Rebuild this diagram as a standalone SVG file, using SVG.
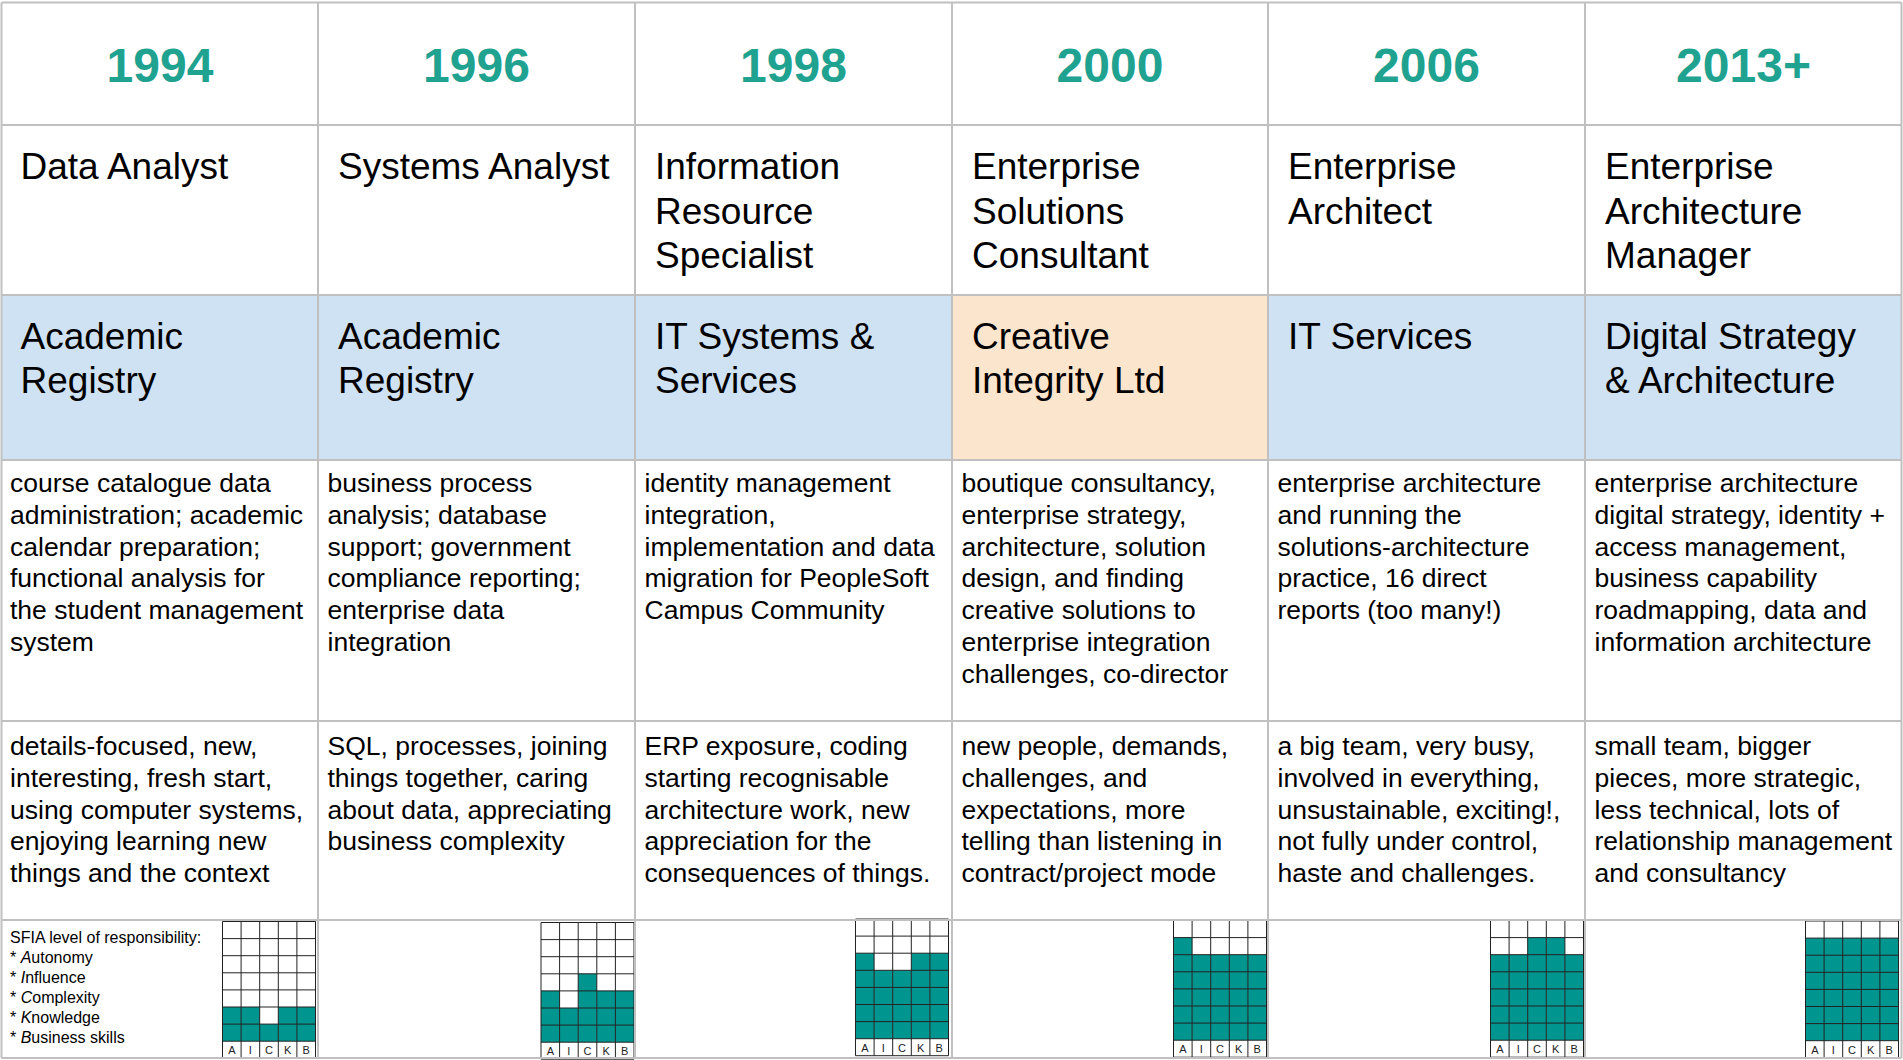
<svg xmlns="http://www.w3.org/2000/svg" xmlns:xlink="http://www.w3.org/1999/xlink" width="1903" height="1060" viewBox="0 0 1903 1060">
<style>
text{font-family:"Liberation Sans",Arial,sans-serif;fill:#000}
.yr{font-size:48px;font-weight:bold;fill:#1fa28f;text-anchor:middle}
.tt{font-size:37px}
.ds{font-size:26.5px}
.sf{font-size:16px}
.lb{font-size:11px;text-anchor:middle;fill:#222}
.bl{fill:#cfe2f3}
.or{fill:#fce5cd}
.fill{fill:#00968f}
.gl{fill:none;stroke:#222;stroke-width:1}
.bd{fill:none;stroke:#c0c0c0;stroke-width:2}
</style>
<defs>
<g id="gridframe">
<path class="gl" d="M0 0V136.7M18.6 0V136.7M37.2 0V136.7M55.8 0V136.7M74.4 0V136.7M93 0V136.7M0 0H93M0 17.1H93M0 34.2H93M0 51.3H93M0 68.4H93M0 85.5H93M0 102.6H93M0 119.7H93M0 136.7H93"/>
<text class="lb" x="9.3" y="132.5">A</text>
<text class="lb" x="27.9" y="132.5">I</text>
<text class="lb" x="46.5" y="132.5">C</text>
<text class="lb" x="65.1" y="132.5">K</text>
<text class="lb" x="83.7" y="132.5">B</text>
</g>
</defs>
<rect x="0" y="0" width="1903" height="1060" fill="#fff"/>
<g id="backgrounds">
<rect class="bl" x="1.5" y="295" width="950.5" height="165"/>
<rect class="or" x="952" y="295" width="316" height="165"/>
<rect class="bl" x="1268" y="295" width="633.5" height="165"/>
</g>

<g id="col-1994">
<text class="yr" x="160" y="82">1994</text>
<text class="tt" x="20.5" y="179">Data Analyst</text>
<text class="tt" x="20.5" y="348.5">Academic</text>
<text class="tt" x="20.5" y="392.5">Registry</text>
<text class="ds" x="10" y="492"><tspan x="10">course catalogue data</tspan><tspan x="10" dy="31.8">administration; academic</tspan><tspan x="10" dy="31.8">calendar preparation;</tspan><tspan x="10" dy="31.8">functional analysis for</tspan><tspan x="10" dy="31.8">the student management</tspan><tspan x="10" dy="31.8">system</tspan></text>
<text class="ds" x="10" y="755"><tspan x="10">details-focused, new,</tspan><tspan x="10" dy="31.8">interesting, fresh start,</tspan><tspan x="10" dy="31.8">using computer systems,</tspan><tspan x="10" dy="31.8">enjoying learning new</tspan><tspan x="10" dy="31.8">things and the context</tspan></text>
<text class="sf" x="10" y="943"><tspan x="10">SFIA level of responsibility:</tspan><tspan x="10" dy="19.9">* <tspan font-style="italic">A</tspan>utonomy</tspan><tspan x="10" dy="19.9">* <tspan font-style="italic">I</tspan>nfluence</tspan><tspan x="10" dy="19.9">* <tspan font-style="italic">C</tspan>omplexity</tspan><tspan x="10" dy="19.9">* <tspan font-style="italic">K</tspan>nowledge</tspan><tspan x="10" dy="19.9">* <tspan font-style="italic">B</tspan>usiness skills</tspan></text>
<g id="sfia-1994" transform="translate(222.5,921.5)">
<rect x="0" y="0" width="93" height="136.7" fill="#fff"/>
<rect class="fill" x="0" y="85.5" width="18.6" height="34.2"/>
<rect class="fill" x="18.6" y="85.5" width="18.6" height="34.2"/>
<rect class="fill" x="37.2" y="102.6" width="18.6" height="17.1"/>
<rect class="fill" x="55.8" y="85.5" width="18.6" height="34.2"/>
<rect class="fill" x="74.4" y="85.5" width="18.6" height="34.2"/>
<use xlink:href="#gridframe"/>
</g>
</g>

<g id="col-1996">
<text class="yr" x="476.5" y="82">1996</text>
<text class="tt" x="338" y="179">Systems Analyst</text>
<text class="tt" x="338" y="348.5">Academic</text>
<text class="tt" x="338" y="392.5">Registry</text>
<text class="ds" x="327.5" y="492"><tspan x="327.5">business process</tspan><tspan x="327.5" dy="31.8">analysis; database</tspan><tspan x="327.5" dy="31.8">support; government</tspan><tspan x="327.5" dy="31.8">compliance reporting;</tspan><tspan x="327.5" dy="31.8">enterprise data</tspan><tspan x="327.5" dy="31.8">integration</tspan></text>
<text class="ds" x="327.5" y="755"><tspan x="327.5">SQL, processes, joining</tspan><tspan x="327.5" dy="31.8">things together, caring</tspan><tspan x="327.5" dy="31.8">about data, appreciating</tspan><tspan x="327.5" dy="31.8">business complexity</tspan></text>
<g id="sfia-1996" transform="translate(541,922.5)">
<rect x="0" y="0" width="93" height="136.7" fill="#fff"/>
<rect class="fill" x="0" y="68.4" width="18.6" height="51.3"/>
<rect class="fill" x="18.6" y="85.5" width="18.6" height="34.2"/>
<rect class="fill" x="37.2" y="51.3" width="18.6" height="68.4"/>
<rect class="fill" x="55.8" y="68.4" width="18.6" height="51.3"/>
<rect class="fill" x="74.4" y="68.4" width="18.6" height="51.3"/>
<use xlink:href="#gridframe"/>
</g>
</g>

<g id="col-1998">
<text class="yr" x="793.5" y="82">1998</text>
<text class="tt" x="655" y="179"><tspan x="655">Information</tspan><tspan x="655" dy="44.5">Resource</tspan><tspan x="655" dy="44.5">Specialist</tspan></text>
<text class="tt" x="655" y="348.5"><tspan x="655">IT Systems &amp;</tspan><tspan x="655" dy="44">Services</tspan></text>
<text class="ds" x="644.5" y="492"><tspan x="644.5">identity management</tspan><tspan x="644.5" dy="31.8">integration,</tspan><tspan x="644.5" dy="31.8">implementation and data</tspan><tspan x="644.5" dy="31.8">migration for PeopleSoft</tspan><tspan x="644.5" dy="31.8">Campus Community</tspan></text>
<text class="ds" x="644.5" y="755"><tspan x="644.5">ERP exposure, coding</tspan><tspan x="644.5" dy="31.8">starting recognisable</tspan><tspan x="644.5" dy="31.8">architecture work, new</tspan><tspan x="644.5" dy="31.8">appreciation for the</tspan><tspan x="644.5" dy="31.8">consequences of things.</tspan></text>
<g id="sfia-1998" transform="translate(855.5,919)">
<rect x="0" y="0" width="93" height="136.7" fill="#fff"/>
<rect class="fill" x="0" y="34.2" width="18.6" height="85.5"/>
<rect class="fill" x="18.6" y="51.3" width="18.6" height="68.4"/>
<rect class="fill" x="37.2" y="51.3" width="18.6" height="68.4"/>
<rect class="fill" x="55.8" y="34.2" width="18.6" height="85.5"/>
<rect class="fill" x="74.4" y="34.2" width="18.6" height="85.5"/>
<use xlink:href="#gridframe"/>
</g>
</g>

<g id="col-2000">
<text class="yr" x="1110" y="82">2000</text>
<text class="tt" x="972" y="179"><tspan x="972">Enterprise</tspan><tspan x="972" dy="44.5">Solutions</tspan><tspan x="972" dy="44.5">Consultant</tspan></text>
<text class="tt" x="972" y="348.5"><tspan x="972">Creative</tspan><tspan x="972" dy="44">Integrity Ltd</tspan></text>
<text class="ds" x="961.5" y="492"><tspan x="961.5">boutique consultancy,</tspan><tspan x="961.5" dy="31.8">enterprise strategy,</tspan><tspan x="961.5" dy="31.8">architecture, solution</tspan><tspan x="961.5" dy="31.8">design, and finding</tspan><tspan x="961.5" dy="31.8">creative solutions to</tspan><tspan x="961.5" dy="31.8">enterprise integration</tspan><tspan x="961.5" dy="31.8">challenges, co-director</tspan></text>
<text class="ds" x="961.5" y="755"><tspan x="961.5">new people, demands,</tspan><tspan x="961.5" dy="31.8">challenges, and</tspan><tspan x="961.5" dy="31.8">expectations, more</tspan><tspan x="961.5" dy="31.8">telling than listening in</tspan><tspan x="961.5" dy="31.8">contract/project mode</tspan></text>
<g id="sfia-2000" transform="translate(1173.5,920.5)">
<rect x="0" y="0" width="93" height="136.7" fill="#fff"/>
<rect class="fill" x="0" y="17.1" width="18.6" height="102.6"/>
<rect class="fill" x="18.6" y="34.2" width="18.6" height="85.5"/>
<rect class="fill" x="37.2" y="34.2" width="18.6" height="85.5"/>
<rect class="fill" x="55.8" y="34.2" width="18.6" height="85.5"/>
<rect class="fill" x="74.4" y="34.2" width="18.6" height="85.5"/>
<use xlink:href="#gridframe"/>
</g>
</g>

<g id="col-2006">
<text class="yr" x="1426.5" y="82">2006</text>
<text class="tt" x="1288" y="179"><tspan x="1288">Enterprise</tspan><tspan x="1288" dy="44.5">Architect</tspan></text>
<text class="tt" x="1288" y="348.5">IT Services</text>
<text class="ds" x="1277.5" y="492"><tspan x="1277.5">enterprise architecture</tspan><tspan x="1277.5" dy="31.8">and running the</tspan><tspan x="1277.5" dy="31.8">solutions-architecture</tspan><tspan x="1277.5" dy="31.8">practice, 16 direct</tspan><tspan x="1277.5" dy="31.8">reports (too many!)</tspan></text>
<text class="ds" x="1277.5" y="755"><tspan x="1277.5">a big team, very busy,</tspan><tspan x="1277.5" dy="31.8">involved in everything,</tspan><tspan x="1277.5" dy="31.8">unsustainable, exciting!,</tspan><tspan x="1277.5" dy="31.8">not fully under control,</tspan><tspan x="1277.5" dy="31.8">haste and challenges.</tspan></text>
<g id="sfia-2006" transform="translate(1490.5,920.5)">
<rect x="0" y="0" width="93" height="136.7" fill="#fff"/>
<rect class="fill" x="0" y="34.2" width="18.6" height="85.5"/>
<rect class="fill" x="18.6" y="34.2" width="18.6" height="85.5"/>
<rect class="fill" x="37.2" y="17.1" width="18.6" height="102.6"/>
<rect class="fill" x="55.8" y="17.1" width="18.6" height="102.6"/>
<rect class="fill" x="74.4" y="34.2" width="18.6" height="85.5"/>
<use xlink:href="#gridframe"/>
</g>
</g>

<g id="col-2013">
<text class="yr" x="1743.5" y="82">2013+</text>
<text class="tt" x="1605" y="179"><tspan x="1605">Enterprise</tspan><tspan x="1605" dy="44.5">Architecture</tspan><tspan x="1605" dy="44.5">Manager</tspan></text>
<text class="tt" x="1605" y="348.5"><tspan x="1605">Digital Strategy</tspan><tspan x="1605" dy="44">&amp; Architecture</tspan></text>
<text class="ds" x="1594.5" y="492"><tspan x="1594.5">enterprise architecture</tspan><tspan x="1594.5" dy="31.8">digital strategy, identity +</tspan><tspan x="1594.5" dy="31.8">access management,</tspan><tspan x="1594.5" dy="31.8">business capability</tspan><tspan x="1594.5" dy="31.8">roadmapping, data and</tspan><tspan x="1594.5" dy="31.8">information architecture</tspan></text>
<text class="ds" x="1594.5" y="755"><tspan x="1594.5">small team, bigger</tspan><tspan x="1594.5" dy="31.8">pieces, more strategic,</tspan><tspan x="1594.5" dy="31.8">less technical, lots of</tspan><tspan x="1594.5" dy="31.8">relationship management</tspan><tspan x="1594.5" dy="31.8">and consultancy</tspan></text>
<g id="sfia-2013" transform="translate(1805.5,921)">
<rect x="0" y="0" width="93" height="136.7" fill="#fff"/>
<rect class="fill" x="0" y="17.1" width="93" height="102.6"/>
<use xlink:href="#gridframe"/>
</g>
</g>

<g id="connectors">
<path class="bd" d="M1.5 2.5H1901.5M1.5 125H1901.5M1.5 295H1901.5M1.5 460H1901.5M1.5 721H1901.5M1.5 920H1901.5M1.5 1058H1901.5M1.5 2.5V1058M318 2.5V1058M635 2.5V1058M952 2.5V1058M1268 2.5V1058M1585 2.5V1058M1901.5 2.5V1058"/>
</g>
</svg>
